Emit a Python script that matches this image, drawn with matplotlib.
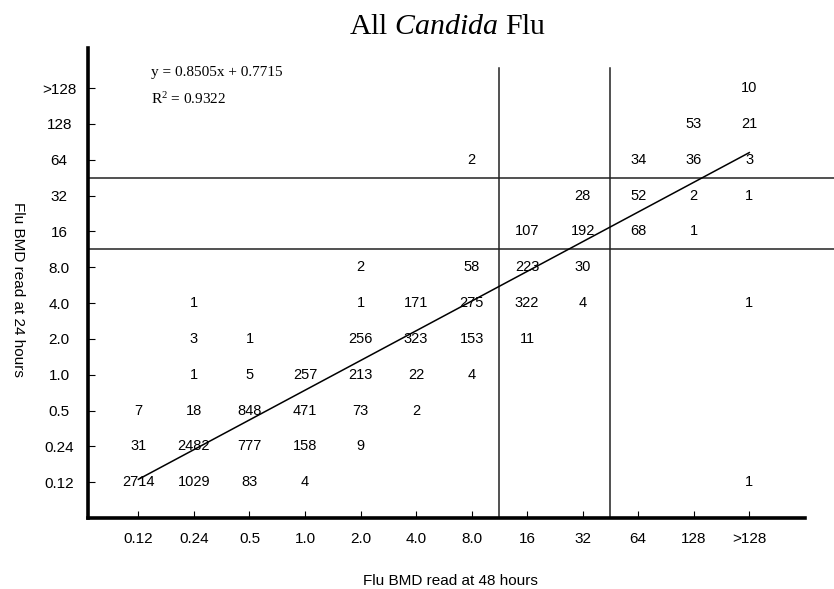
import matplotlib
matplotlib.use("Agg")
import matplotlib.pyplot as plt

# category labels (same scale on both axes)
x_labels = ["0.12", "0.24", "0.5", "1.0", "2.0", "4.0", "8.0", "16", "32", "64", "128", ">128"]
y_labels = ["0.12", "0.24", "0.5", "1.0", "2.0", "4.0", "8.0", "16", "32", "64", "128", ">128"]

# isolate counts, one row per 24 h category (bottom row first), 0 = empty cell
counts = [
    [2714, 1029, 83, 4, 0, 0, 0, 0, 0, 0, 0, 1],        # 0.12
    [31, 2482, 777, 158, 9, 0, 0, 0, 0, 0, 0, 0],       # 0.24
    [7, 18, 848, 471, 73, 2, 0, 0, 0, 0, 0, 0],         # 0.5
    [0, 1, 5, 257, 213, 22, 4, 0, 0, 0, 0, 0],          # 1.0
    [0, 3, 1, 0, 256, 323, 153, 11, 0, 0, 0, 0],        # 2.0
    [0, 1, 0, 0, 1, 171, 275, 322, 4, 0, 0, 1],         # 4.0
    [0, 0, 0, 0, 2, 0, 58, 223, 30, 0, 0, 0],           # 8.0
    [0, 0, 0, 0, 0, 0, 0, 107, 192, 68, 1, 0],          # 16
    [0, 0, 0, 0, 0, 0, 0, 0, 28, 52, 2, 1],             # 32
    [0, 0, 0, 0, 0, 0, 2, 0, 0, 34, 36, 3],             # 64
    [0, 0, 0, 0, 0, 0, 0, 0, 0, 0, 53, 21],             # 128
    [0, 0, 0, 0, 0, 0, 0, 0, 0, 0, 0, 10],              # >128
]

# breakpoint lines (between category positions) and trend line end points
breaks = [7.5, 9.5]
trend_x = [1, 12]
trend_y = [1.08, 10.2]
equation = "y = 0.8505x + 0.7715"
r_squared = "0.9322"

plt.rcParams["mathtext.fontset"] = "custom"
plt.rcParams["mathtext.rm"] = "Liberation Serif"
plt.rcParams["mathtext.it"] = "Liberation Serif:italic"

fig = plt.figure(figsize=(8.34, 5.89), dpi=100)
ax = fig.add_axes([0.106, 0.1205, 0.859, 0.798])

sans = "Liberation Sans"
serif = "Liberation Serif"

for yi, row in enumerate(counts):
    for xi, n in enumerate(row):
        if n:
            ax.text(xi + 1, yi + 1, str(n), ha="center", va="center",
                    fontsize=10.5, family=sans, zorder=2)

ax.plot(trend_x, trend_y, color="black", linewidth=1.1, zorder=3)

for b in breaks:
    ax.plot([b, b], [0, 12.56], color="#222222", linewidth=1.1, clip_on=False)
    ax.plot([0.1, 13.52], [b, b], color="#222222", linewidth=1.1, clip_on=False)

ax.set_xlim(0.1, 13.0)
ax.set_ylim(0, 13.12)
pos = list(range(1, len(x_labels) + 1))
ax.set_xticks(pos)
ax.set_xticklabels(x_labels, family=sans, fontsize=11)
ax.set_yticks(pos)
ax.set_yticklabels(y_labels, family=sans, fontsize=11, ha="center")
ax.tick_params(axis="x", direction="in", length=5, width=0.8, pad=10)
ax.tick_params(axis="y", direction="in", length=5, width=0.8, pad=21)

for side in ["top", "right"]:
    ax.spines[side].set_visible(False)
for side in ["left", "bottom"]:
    ax.spines[side].set_linewidth(2.6)

ax.text(0.087, 0.947, equation, transform=ax.transAxes, family=serif, fontsize=11,
        ha="left", va="center")
ax.text(0.087, 0.891, "R$^2$ = " + r_squared, transform=ax.transAxes, family=serif,
        fontsize=11, ha="left", va="center")

fig.text(0.537, 0.943, r"All $\mathit{Candida}$ Flu", family=serif, fontsize=21.5,
         ha="center", va="baseline")
fig.text(0.54, 0.007, "Flu BMD read at 48 hours", family=sans, fontsize=11,
         ha="center", va="baseline")
fig.text(0.021, 0.509, "Flu BMD read at 24 hours", family=sans, fontsize=11,
         ha="center", va="center", rotation=270)

fig.savefig("out.png", dpi=100)
